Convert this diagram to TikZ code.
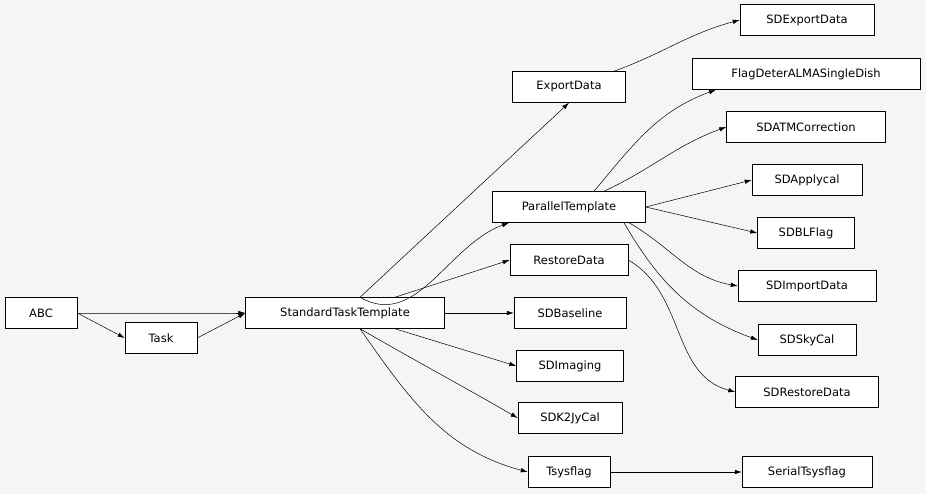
\documentclass[tikz,border=0pt]{standalone}
\usepackage{fontspec}
\setmainfont{DejaVu Sans}
\usetikzlibrary{arrows.meta}
\begin{document}
\begin{tikzpicture}[x=1pt,y=-1pt,
  box/.style={draw=black,fill=white,line width=0.5pt,minimum height=31pt,inner xsep=7pt,font=\fontsize{11.5pt}{13pt}\selectfont},
  e/.style={-{Latex[length=7pt,width=4.5pt]},line width=0.5pt}]
\fill[white!96!black] (0,0) rectangle (926,494);
\useasboundingbox (0,0) rectangle (926,494);
\node[box,minimum width=72pt] (abc) at (41,313) {ABC};
\node[box,minimum width=72pt] (task) at (161,338) {Task};
\node[box,minimum width=199pt] (stt) at (345,313) {StandardTaskTemplate};
\node[box,minimum width=113pt] (exp) at (569,87) {ExportData};
\node[box,minimum width=153pt] (par) at (569,207) {ParallelTemplate};
\node[box,minimum width=118pt] (res) at (569,260) {RestoreData};
\node[box,minimum width=112pt] (base) at (570,313) {SDBaseline};
\node[box,minimum width=107pt] (img) at (570,366) {SDImaging};
\node[box,minimum width=104pt] (k2j) at (570,418) {SDK2JyCal};
\node[box,minimum width=82pt] (tsys) at (569,472) {Tsysflag};
\node[box,minimum width=134pt] (sdexp) at (807,20) {SDExportData};
\node[box,minimum width=228pt] (flag) at (806,74) {FlagDeterALMASingleDish};
\node[box,minimum width=159pt] (atm) at (806,127) {SDATMCorrection};
\node[box,minimum width=110pt] (app) at (807,180) {SDApplycal};
\node[box,minimum width=97pt] (blf) at (806,233) {SDBLFlag};
\node[box,minimum width=138pt] (imp) at (807,286) {SDImportData};
\node[box,minimum width=98pt] (sky) at (807,340) {SDSkyCal};
\node[box,minimum width=143pt] (sdres) at (807,392) {SDRestoreData};
\node[box,minimum width=130pt] (ser) at (807,472) {SerialTsysflag};
\draw[e] (abc.east) to[out=0,in=180] (stt.west);
\draw[e] (abc.east) -- (task.west);
\draw[e] (task.east) -- (stt.west);
\draw[e] (stt.north) ++(15,0) -- (exp.south);
\draw[e] ([xshift=15pt]stt.north) to[out=-30,in=200] ([xshift=-60pt]par.south);
\draw[e] ([xshift=50pt]stt.north) -- (res.west);
\draw[e] (stt.east) -- (base.west);
\draw[e] ([xshift=50pt]stt.south) -- (img.west);
\draw[e] ([xshift=15pt]stt.south) to[out=-30,in=150] (k2j.west);
\draw[e] ([xshift=15pt]stt.south) to[out=-55,in=165] (tsys.west);
\draw[e] ([xshift=45pt]exp.north) to[out=20,in=195] (sdexp.west);
\draw[e] ([xshift=25pt]par.north) to[out=50,in=200] ([xshift=-90pt]flag.south);
\draw[e] ([xshift=35pt]par.north) to[out=25,in=200] (atm.west);
\draw[e] (par.east) -- (app.west);
\draw[e] (par.east) -- (blf.west);
\draw[e] ([xshift=60pt]par.south) to[out=-30,in=170] (imp.west);
\draw[e] ([xshift=55pt]par.south) to[out=-60,in=160] (sky.west);
\draw[e] (res.east) to[out=-30,in=165] (sdres.west);
\draw[e] (tsys.east) -- (ser.west);
\end{tikzpicture}
\end{document}
